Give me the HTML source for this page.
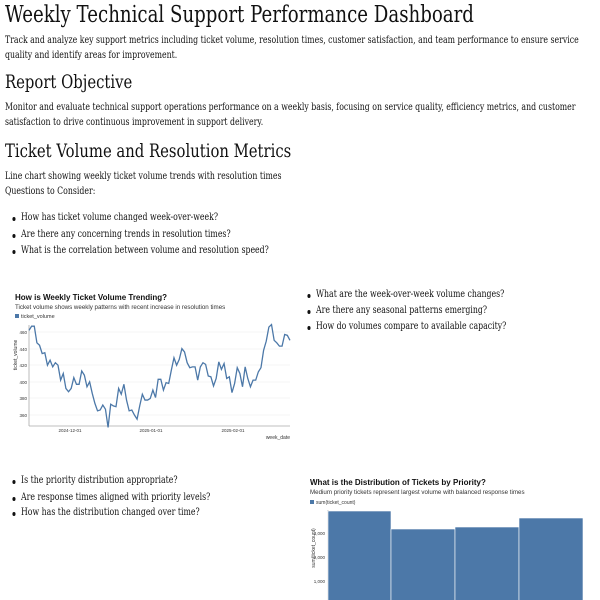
<!DOCTYPE html>
<html><head><meta charset="utf-8"><style>
body{margin:0;width:600px;height:600px;overflow:hidden;background:#fff;font-family:"DejaVu Serif","Liberation Serif",serif;color:#111;position:relative}
.a{position:absolute;white-space:nowrap}
.t{transform:scaleX(.78);transform-origin:0 0}
h1,h2{margin:0;font-weight:normal}
.p{font-size:10px;line-height:15px}
.li{font-size:10px}
.li:before{content:"";position:absolute;left:-11px;top:5px;width:4px;height:4px;border-radius:50%;background:#111}
svg text{font-family:"Liberation Sans",sans-serif}
</style></head><body>
<h1 class="a t" style="left:5px;top:2px;font-size:23px;transform:scaleX(.79)">Weekly Technical Support Performance Dashboard</h1>
<div class="a p t" style="left:5px;top:33px">Track and analyze key support metrics including ticket volume, resolution times, customer satisfaction, and team performance to ensure service<br>quality and identify areas for improvement.</div>
<h2 class="a t" style="left:5px;top:71px;font-size:19px">Report Objective</h2>
<div class="a p t" style="left:5px;top:100px">Monitor and evaluate technical support operations performance on a weekly basis, focusing on service quality, efficiency metrics, and customer<br>satisfaction to drive continuous improvement in support delivery.</div>
<h2 class="a t" style="left:5px;top:140px;font-size:19px">Ticket Volume and Resolution Metrics</h2>
<div class="a p t" style="left:5px;top:169px">Line chart showing weekly ticket volume trends with resolution times</div>
<div class="a p t" style="left:5px;top:184px">Questions to Consider:</div>
<div class="a li t" style="left:21px;top:212px">How has ticket volume changed week-over-week?</div>
<div class="a li t" style="left:21px;top:229px">Are there any concerning trends in resolution times?</div>
<div class="a li t" style="left:21px;top:245px">What is the correlation between volume and resolution speed?</div>
<div class="a li t" style="left:316px;top:289px">What are the week-over-week volume changes?</div>
<div class="a li t" style="left:316px;top:305px">Are there any seasonal patterns emerging?</div>
<div class="a li t" style="left:316px;top:321px">How do volumes compare to available capacity?</div>
<div class="a li t" style="left:21px;top:475px">Is the priority distribution appropriate?</div>
<div class="a li t" style="left:21px;top:492px">Are response times aligned with priority levels?</div>
<div class="a li t" style="left:21px;top:507px">How has the distribution changed over time?</div>
<svg class="a" style="left:0;top:0" width="600" height="600">
<g font-size="5.5" fill="#333">
<text x="15" y="300" font-size="8" font-weight="bold" fill="#111">How is Weekly Ticket Volume Trending?</text>
<text x="15" y="309" font-size="6.2" fill="#333">Ticket volume shows weekly patterns with recent increase in resolution times</text>
<rect x="15" y="314" width="4" height="4" fill="#4c78a8"/><text x="21" y="318">ticket_volume</text>
<g stroke="#eee" stroke-width="0.6"><line x1="29" x2="290" y1="332" y2="332"/><line x1="29" x2="290" y1="349" y2="349"/><line x1="29" x2="290" y1="365" y2="365"/><line x1="29" x2="290" y1="382" y2="382"/><line x1="29" x2="290" y1="398" y2="398"/><line x1="29" x2="290" y1="415" y2="415"/></g>
<line x1="29" x2="29" y1="325" y2="426" stroke="#aaa" stroke-width="0.8"/>
<line x1="29" x2="290" y1="426" y2="426" stroke="#aaa" stroke-width="0.8"/>
<g font-size="4.5" text-anchor="end"><text x="27" y="334">460</text><text x="27" y="351">440</text><text x="27" y="367">420</text><text x="27" y="384">400</text><text x="27" y="400">380</text><text x="27" y="417">360</text></g>
<g font-size="4.5" text-anchor="middle"><text x="70" y="432">2024-12-01</text><text x="151" y="432">2025-01-01</text><text x="233" y="432">2025-02-01</text></g>
<text x="290" y="439" text-anchor="end" font-size="5">week_date</text>
<text transform="translate(17,355) rotate(-90)" text-anchor="middle" font-size="5">ticket_volume</text>
<polyline fill="none" stroke="#4c78a8" stroke-width="1.3" vector-effect="non-scaling-stroke" transform="translate(29,332) scale(2.636,-0.83) translate(0,-460)" points="0,462 1,467 2,467 3,447 4,444 5,434 6,435 7,420 8,426 9,418 10,423 11,420 12,402 13,410 14,392 15,388 16,392 17,405 18,397 19,397 20,413 21,408 22,394 23,400 24,386 25,374 26,365 27,366 28,372 29,367 30,345 31,373 32,371 33,370 34,392 35,385 36,397 37,378 38,365 39,366 40,360 41,355 42,371 43,385 44,378 45,378 46,380 47,390 48,381 49,403 50,403 51,390 52,399 53,398 54,414 55,429 56,420 57,427 58,440 59,436 60,423 61,417 62,418 63,418 64,402 65,418 66,423 67,421 68,407 69,406 70,395 71,404 72,424 73,415 74,422 75,404 76,406 77,387 78,398 79,417 80,410 81,394 82,418 83,404 84,394 85,402 86,402 87,412 88,417 89,438 90,449 91,466 92,469 93,450 94,447 95,443 96,443 97,457 98,456 99,450"/>
<text x="310" y="485" font-size="8" font-weight="bold" fill="#111">What is the Distribution of Tickets by Priority?</text>
<text x="310" y="494" font-size="6.2">Medium priority tickets represent largest volume with balanced response times</text>
<rect x="310" y="500" width="4" height="4" fill="#4c78a8"/><text x="316" y="504" font-size="5">sum(ticket_count)</text>
<line x1="328" x2="328" y1="510" y2="600" stroke="#aaa" stroke-width="0.8"/>
<g font-size="4.5" text-anchor="end"><text x="325" y="535">3,000</text><text x="325" y="559">2,000</text><text x="325" y="583">1,000</text></g>
<text transform="translate(315,548) rotate(-90)" text-anchor="middle" font-size="5">sum(ticket_count)</text>
<g fill="#4c78a8" stroke="#fff" stroke-width="0.6"><rect x="328" y="511" width="63" height="95"/><rect x="391" y="529" width="64" height="77"/><rect x="455" y="527" width="64" height="79"/><rect x="519" y="518" width="64" height="88"/></g>
</g></svg>
</body></html>
